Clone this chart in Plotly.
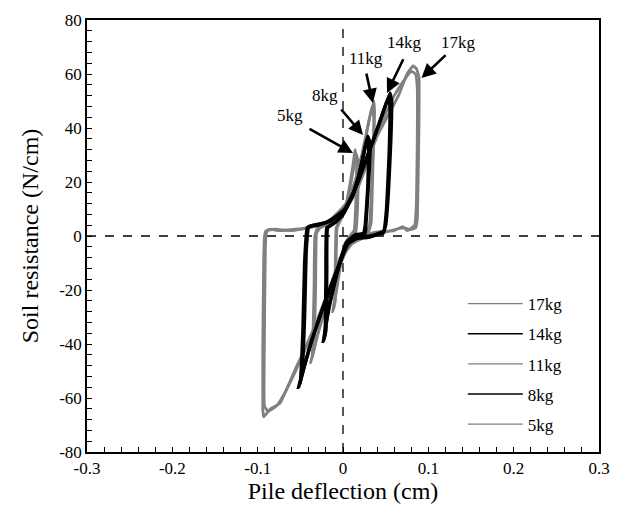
import plotly.graph_objects as go

# Pile-soil p-y hysteresis loops for each lateral load level (two recorded cycles each).
# Loop path: peak -> unload on right -> gap -> reverse loading -> trough -> unload on left -> gap -> reload
load_labels = ["17kg", "14kg", "11kg", "8kg", "5kg"]

x_tick_vals = [-0.3, -0.2, -0.1, 0, 0.1, 0.2, 0.3]
x_tick_text = ["-0.3", "-0.2", "-0.1", "0", "0.1", "0.2", "0.3"]
y_tick_vals = [-80, -60, -40, -20, 0, 20, 40, 60, 80]
y_tick_text = ["-80", "-60", "-40", "-20", "0", "20", "40", "60", "80"]

# ---- 17 kg ----
x_17kg_c1 = [0.082, 0.086, 0.089, 0.089, 0.088, 0.087, 0.085, 0.075, 0.070, 0.060, 0.040, 0.020, 0.008,
             0.002, 0.000, -0.012, -0.030, -0.045, -0.054, -0.065, -0.074, -0.085, -0.093, -0.094,
             -0.094, -0.093, -0.092, -0.090, -0.080, -0.060, -0.040, -0.020, -0.005, 0.005, 0.015,
             0.025, 0.040, 0.055, 0.065, 0.075, 0.082]
y_17kg_c1 = [63.0, 62.0, 59.0, 40.0, 20.0, 6.0, 3.0, 2.0, 3.5, 2.0, 1.5, 0.0, -2.0,
             -5.0, -7.0, -16.0, -31.0, -42.0, -48.0, -56.0, -62.0, -64.0, -67.0, -64.0,
             -40.0, -10.0, 0.0, 2.0, 2.5, 2.0, 3.0, 5.0, 8.0, 11.0, 16.0,
             24.0, 37.0, 46.0, 52.0, 60.0, 63.0]
x_17kg_c2 = [0.080, 0.085, 0.087, 0.087, 0.086, 0.084, 0.078, 0.072, 0.062, 0.045, 0.025, 0.010, 0.003,
             -0.001, -0.014, -0.032, -0.047, -0.057, -0.068, -0.078, -0.088, -0.092, -0.092, -0.091,
             -0.090, -0.087, -0.075, -0.055, -0.035, -0.015, -0.002, 0.008, 0.018, 0.030, 0.045,
             0.060, 0.070, 0.080]
y_17kg_c2 = [61.0, 60.0, 55.0, 35.0, 12.0, 4.0, 2.5, 3.0, 2.5, 1.0, -0.5, -3.0, -6.0,
             -9.0, -18.0, -33.0, -44.0, -51.0, -58.0, -63.0, -65.0, -63.0, -35.0, -5.0,
             1.0, 2.5, 2.0, 2.5, 3.5, 6.0, 10.0, 14.0, 21.0, 30.0, 42.0,
             52.0, 57.0, 61.0]

# ---- 14 kg ----
x_14kg_c1 = [0.055, 0.057, 0.056, 0.053, 0.050, 0.047, 0.040, 0.030, 0.015, 0.005, 0.000, -0.012,
             -0.025, -0.038, -0.047, -0.052, -0.050, -0.047, -0.045, -0.042, -0.035, -0.020, 0.000,
             0.010, 0.020, 0.035, 0.045, 0.055]
y_14kg_c1 = [53.0, 50.0, 35.0, 15.0, 4.0, 1.0, 0.5, -0.5, -1.0, -3.0, -7.0, -17.0,
             -28.0, -40.0, -50.0, -56.0, -54.0, -35.0, -10.0, 3.0, 4.0, 5.0, 9.0,
             14.0, 22.0, 35.0, 44.0, 53.0]
x_14kg_c2 = [0.053, 0.055, 0.054, 0.051, 0.048, 0.042, 0.032, 0.018, 0.007, 0.001, -0.010, -0.023,
             -0.036, -0.045, -0.050, -0.048, -0.045, -0.043, -0.040, -0.030, -0.015, 0.002, 0.012,
             0.023, 0.036, 0.046, 0.053]
y_14kg_c2 = [51.0, 48.0, 30.0, 10.0, 2.0, 1.0, 0.0, -0.5, -2.5, -6.0, -15.0, -26.0,
             -38.0, -48.0, -54.0, -51.0, -30.0, -5.0, 3.5, 4.0, 5.5, 10.0, 16.0,
             25.0, 36.0, 45.0, 51.0]

# ---- 11 kg ----
x_11kg_c1 = [0.036, 0.037, 0.035, 0.033, 0.030, 0.020, 0.008, 0.000, -0.010, -0.020, -0.030, -0.038,
             -0.036, -0.034, -0.033, -0.030, -0.020, -0.008, 0.002, 0.012, 0.022, 0.030, 0.036]
y_11kg_c1 = [50.0, 46.0, 25.0, 5.0, 1.5, 0.5, -2.0, -6.0, -15.0, -26.0, -37.0, -47.0,
             -44.0, -20.0, 0.0, 3.0, 4.5, 7.0, 11.0, 18.0, 30.0, 42.0, 50.0]
x_11kg_c2 = [0.034, 0.036, 0.034, 0.031, 0.027, 0.018, 0.006, -0.002, -0.012, -0.022, -0.031, -0.036,
             -0.034, -0.032, -0.031, -0.027, -0.016, -0.005, 0.004, 0.014, 0.024, 0.030, 0.034]
y_11kg_c2 = [48.0, 44.0, 22.0, 4.0, 1.0, 0.0, -2.5, -7.0, -16.0, -27.0, -38.0, -45.0,
             -42.0, -18.0, 1.0, 3.0, 4.5, 7.5, 12.0, 20.0, 32.0, 42.0, 48.0]

# ---- 8 kg ----
x_8kg_c1 = [0.029, 0.032, 0.030, 0.027, 0.026, 0.015, 0.005, 0.000, -0.008, -0.016, -0.021, -0.023,
            -0.021, -0.020, -0.019, -0.010, 0.000, 0.010, 0.018, 0.024, 0.029]
y_8kg_c1 = [37.0, 34.0, 20.0, 5.0, 1.0, 0.5, -2.0, -6.0, -15.0, -26.0, -35.0, -39.0,
            -36.0, -15.0, 3.0, 5.0, 8.0, 14.0, 22.0, 30.0, 37.0]
x_8kg_c2 = [0.028, 0.030, 0.029, 0.026, 0.024, 0.014, 0.004, -0.001, -0.009, -0.017, -0.021, -0.022,
            -0.020, -0.019, -0.018, -0.009, 0.001, 0.011, 0.019, 0.024, 0.028]
y_8kg_c2 = [36.0, 33.0, 18.0, 4.0, 1.0, 0.0, -2.5, -7.0, -16.0, -27.0, -35.0, -38.0,
            -35.0, -14.0, 3.0, 5.0, 8.5, 15.0, 23.0, 30.0, 36.0]

# ---- 5 kg ----
x_5kg_c1 = [0.014, 0.016, 0.015, 0.013, 0.008, 0.002, -0.004, -0.009, -0.012, -0.010, -0.009,
            -0.008, -0.003, 0.003, 0.008, 0.012, 0.014]
y_5kg_c1 = [32.0, 29.0, 12.0, 2.0, 0.0, -3.0, -12.0, -22.0, -28.0, -25.0, -10.0,
            3.0, 6.0, 11.0, 19.0, 27.0, 32.0]
x_5kg_c2 = [0.016, 0.018, 0.017, 0.015, 0.010, 0.003, -0.003, -0.008, -0.011, -0.009, -0.008,
            -0.007, -0.002, 0.004, 0.009, 0.013, 0.016]
y_5kg_c2 = [30.0, 27.0, 10.0, 1.5, 0.0, -2.5, -11.0, -21.0, -27.0, -24.0, -9.0,
            3.0, 6.5, 11.5, 19.0, 26.0, 30.0]

loops = {
    "17kg": [(x_17kg_c1, y_17kg_c1), (x_17kg_c2, y_17kg_c2)],
    "14kg": [(x_14kg_c1, y_14kg_c1), (x_14kg_c2, y_14kg_c2)],
    "11kg": [(x_11kg_c1, y_11kg_c1), (x_11kg_c2, y_11kg_c2)],
    "8kg": [(x_8kg_c1, y_8kg_c1), (x_8kg_c2, y_8kg_c2)],
    "5kg": [(x_5kg_c1, y_5kg_c1), (x_5kg_c2, y_5kg_c2)],
}

GRAY = "#808080"
BLACK = "#000000"
colors = {"17kg": GRAY, "14kg": BLACK, "11kg": GRAY, "8kg": BLACK, "5kg": GRAY}
widths = {"17kg": 2.8, "14kg": 3.4, "11kg": 2.8, "8kg": 3.4, "5kg": 2.8}

# Annotation arrows: (label, arrow head x, head y, tail x, tail y, text x, text y)
arrows = [
    ("17kg", 0.092, 58.5, 0.122, 67.5, 0.135, 71.5),
    ("14kg", 0.0516, 53.0, 0.0715, 66.0, 0.0715, 71.5),
    ("11kg", 0.035, 49.3, 0.027, 60.7, 0.027, 65.6),
    ("8kg", 0.0234, 37.4, -0.0035, 47.4, -0.021, 51.9),
    ("5kg", 0.0117, 30.7, -0.041, 40.0, -0.062, 44.8),
]

FONT = "Liberation Serif, Times New Roman, serif"

fig = go.Figure()

# gray loops underneath, black loops on top
for name in ["17kg", "11kg", "5kg", "14kg", "8kg"]:
    for xs, ys in loops[name]:
        fig.add_trace(go.Scatter(
            x=xs, y=ys, mode="lines", showlegend=False,
            line=dict(color=colors[name], width=widths[name], shape="spline", smoothing=0.3),
            hoverinfo="skip",
        ))

# legend entries with thin sample lines
for name in load_labels:
    fig.add_trace(go.Scatter(
        x=[None], y=[None], mode="lines", name=name, legendgroup=name,
        line=dict(color=colors[name], width=1.6 if colors[name] == BLACK else 1.3),
    ))

# dashed reference axes through the origin
fig.add_shape(type="line", xref="x", yref="paper", x0=0, x1=0, y0=0, y1=1,
              line=dict(color="black", width=1.3, dash="dash"), layer="below")
fig.add_shape(type="line", xref="paper", yref="y", x0=0, x1=1, y0=0, y1=0,
              line=dict(color="black", width=1.3, dash="dash"), layer="below")

for label, hx, hy, tx, ty, lx, ly in arrows:
    fig.add_annotation(x=hx, y=hy, ax=tx, ay=ty, xref="x", yref="y", axref="x", ayref="y",
                       text="", showarrow=True, arrowhead=2, arrowsize=1.1,
                       arrowwidth=2.6, arrowcolor="black")
    fig.add_annotation(x=lx, y=ly, xref="x", yref="y", text=label, showarrow=False,
                       font=dict(family=FONT, size=17, color="black"))

axis_common = dict(
    showgrid=False, zeroline=False, showline=True, linecolor="black", linewidth=1.5,
    mirror=True, ticks="inside", ticklen=5, tickwidth=1.2, tickcolor="black",
    tickfont=dict(family=FONT, size=17, color="black"),
)

fig.update_xaxes(range=[-0.3, 0.3],
                 tickvals=x_tick_vals, ticktext=x_tick_text,
                 minor=dict(dtick=0.02, ticks="inside", ticklen=5, tickcolor="black", tickwidth=1.2),
                 title=dict(text="Pile deflection (cm)", font=dict(family=FONT, size=24, color="black"),
                            standoff=5),
                 **axis_common)
fig.update_yaxes(range=[-80, 80],
                 tickvals=y_tick_vals, ticktext=y_tick_text,
                 minor=dict(dtick=4, tick0=0, ticks="inside", ticklen=5, tickcolor="black", tickwidth=1.2),
                 title=dict(text="Soil resistance (N/cm)", font=dict(family=FONT, size=24, color="black"),
                            standoff=14),
                 **axis_common)

fig.update_layout(
    width=624, height=516,
    margin=dict(l=87, r=25, t=20, b=64),
    paper_bgcolor="white", plot_bgcolor="white",
    font=dict(family=FONT, color="black"),
    legend=dict(x=0.734, y=0.384, xanchor="left", yanchor="top",
                font=dict(family=FONT, size=17, color="black"),
                itemwidth=55, tracegroupgap=5, bgcolor="rgba(0,0,0,0)",
                traceorder="grouped"),
)

fig.write_html("out.html")
